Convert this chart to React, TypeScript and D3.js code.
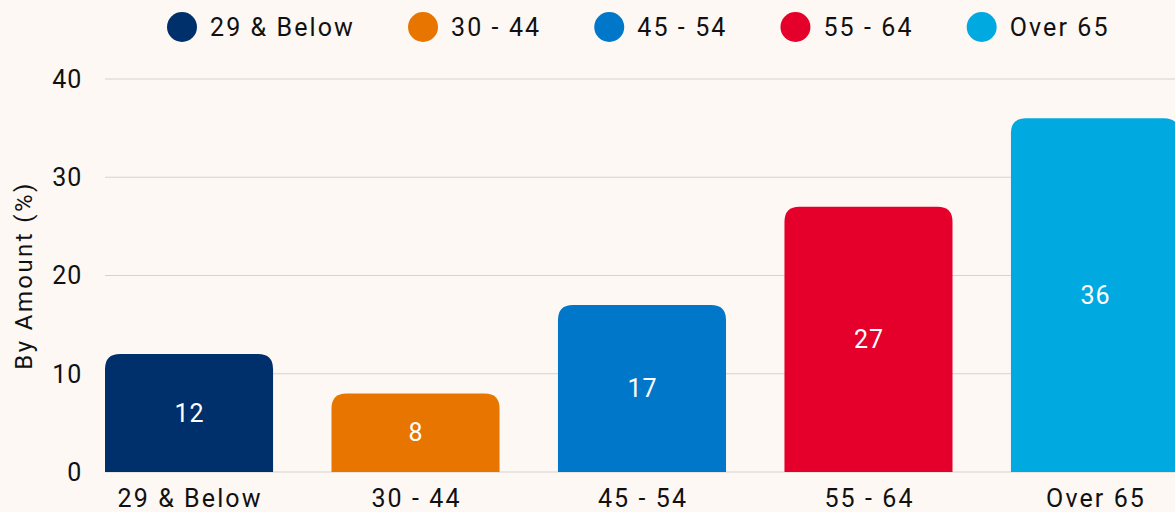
import React, { useEffect, useRef } from "react";
import * as d3 from "d3";

const categories = ["29 & Below", "30 - 44", "45 - 54", "55 - 64", "Over 65"];
const values = [12, 8, 17, 27, 36];
const colors = ["#00306b", "#e87500", "#0077c8", "#e4002b", "#00a9e0"];
const yTicks = [0, 10, 20, 30, 40];
const yLabel = "By Amount (%)";

const W = 1175;
const H = 512;
const FONT = "Roboto, 'Noto Sans', sans-serif";
const LS = 2.1;

export default function App() {
  const ref = useRef<SVGSVGElement>(null);
  useEffect(() => {
    const svg = d3.select(ref.current);
    svg.selectAll("*").remove();
    svg.append("rect").attr("width", W).attr("height", H).attr("fill", "#fdf8f4");

    const x = d3.scaleBand<string>().domain(categories).range([105, 1179]).paddingInner(0.258).paddingOuter(0);
    const y = d3.scaleLinear().domain([0, 40]).range([472, 79]);

    const g = svg.append("g");
    g.selectAll("line.grid").data(yTicks).enter().append("line")
      .attr("x1", 105).attr("x2", W).attr("y1", (d) => y(d)).attr("y2", (d) => y(d))
      .attr("stroke", "#d6d2cd").attr("stroke-width", 1);

    g.selectAll("text.yt").data(yTicks).enter().append("text")
      .attr("x", 82).attr("y", (d) => y(d)).attr("dy", "0.35em")
      .attr("text-anchor", "end").attr("font-family", FONT).attr("font-size", 25)
      .attr("letter-spacing", 0.8)
      .attr("fill", "#111").text((d) => String(d));

    svg.append("text")
      .attr("transform", `translate(32, ${(y(0) + y(40)) / 2}) rotate(-90)`)
      .attr("text-anchor", "middle").attr("font-family", FONT).attr("font-size", 24)
      .attr("letter-spacing", 2.4)
      .attr("fill", "#111").text(yLabel);

    const r = 15;
    const barPath = (x0: number, w: number, top: number, bottom: number) => {
      const rr = Math.min(r, bottom - top);
      return `M${x0},${bottom}V${top + rr}Q${x0},${top} ${x0 + rr},${top}H${x0 + w - rr}Q${x0 + w},${top} ${x0 + w},${top + rr}V${bottom}Z`;
    };
    const bw = x.bandwidth();
    categories.forEach((c, i) => {
      const x0 = x(c)!;
      const top = y(values[i]);
      g.append("path").attr("d", barPath(x0, bw, top, y(0))).attr("fill", colors[i]);
      g.append("text").attr("x", x0 + bw / 2 + 0.5).attr("y", (top + y(0)) / 2).attr("dy", "0.35em")
        .attr("text-anchor", "middle").attr("font-family", FONT).attr("font-size", 25)
        .attr("letter-spacing", 1)
        .attr("fill", "#fff").text(String(values[i]));
      g.append("text").attr("x", x0 + bw / 2 + LS / 2).attr("y", 498).attr("dy", "0.35em")
        .attr("text-anchor", "middle").attr("font-family", FONT).attr("font-size", 25)
        .attr("letter-spacing", LS)
        .attr("fill", "#111").text(c);
    });

    // legend
    const lg = svg.append("g");
    let cx = 167;
    categories.forEach((c, i) => {
      lg.append("circle").attr("cx", cx + r).attr("cy", 27).attr("r", r).attr("fill", colors[i]);
      const t = lg.append("text").attr("x", cx + 2 * r + 13).attr("y", 27).attr("dy", "0.35em")
        .attr("font-family", FONT).attr("font-size", 25).attr("letter-spacing", LS)
        .attr("fill", "#111").text(c);
      const tw = (t.node() as SVGTextElement).getComputedTextLength();
      cx = cx + 2 * r + 13 + tw + 53;
    });
  }, []);
  return (
    <svg ref={ref} width={W} height={H} style={{ display: "block", position: "absolute", left: 0, top: 0 }} />
  );
}
